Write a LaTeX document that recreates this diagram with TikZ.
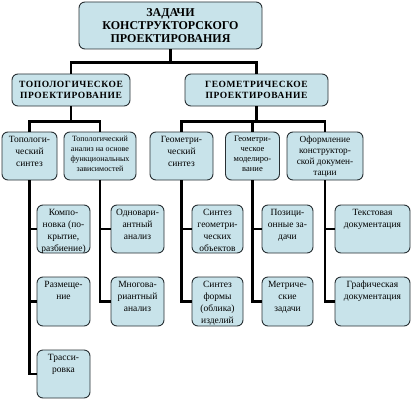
\documentclass[tikz,border=0pt]{standalone}
\usepackage{fontspec}
\setmainfont{Liberation Serif}
\newfontfamily\widefont[LetterSpace=6]{Liberation Serif}
\definecolor{boxfill}{RGB}{200,227,234}
\definecolor{boxline}{RGB}{40,48,52}
\newcommand{\bxt}[4]{\parbox[c][#2pt][t]{#1pt}{\centering\fontsize{#3}{12}\selectfont\vskip 2.5pt\strut #4\par}}
\begin{document}
\begin{tikzpicture}[x=1pt,y=-1pt,
  box/.style={draw=boxline,line width=0.9pt,fill=boxfill,rounded corners=6pt,inner sep=0pt,align=center},
  conn/.style={line width=2.8pt,black}]
\useasboundingbox (0,0) rectangle (411,401);
% top
\node[box,minimum width=183pt,minimum height=47pt,font=\fontsize{12}{13.3}\selectfont\bfseries] (top) at (170.5,25.5)
  {ЗАДАЧИ\\КОНСТРУКТОРСКОГО\\ПРОЕКТИРОВАНИЯ};
% level 2
\node[box,minimum width=118pt,minimum height=32pt,font=\widefont\fontsize{9.5}{10.5}\selectfont\bfseries] (topo) at (71,90)
  {ТОПОЛОГИЧЕСКОЕ\\ПРОЕКТИРОВАНИЕ};
\node[box,minimum width=143pt,minimum height=32pt,font=\widefont\fontsize{9.5}{10.5}\selectfont\bfseries] (geom) at (256.5,90)
  {ГЕОМЕТРИЧЕСКОЕ\\ПРОЕКТИРОВАНИЕ};
% level 3
\node[box] (ts) at (29.5,156) {\bxt{55}{48}{9.5}{Топологи-\\ческий\\синтез}};
\node[box] (ta) at (100,156) {\parbox[c][48pt][t]{72pt}{\centering\fontsize{8}{10}\selectfont\vskip 2.5pt\strut Топологический\\анализ на основе\\функциональных\\зависимостей\par}};
\node[box] (gs) at (181.5,156) {\bxt{63}{48}{9.5}{Геометри-\\ческий\\синтез}};
\node[box] (gm) at (252.5,156) {\parbox[c][48pt][t]{54pt}{\centering\fontsize{8.5}{10}\selectfont\vskip 2.5pt\strut Геометри-\\ческое\\моделиро-\\вание\par}};
\node[box] (od) at (325,156) {\parbox[c][48pt][t]{76pt}{\centering\fontsize{9.3}{11}\selectfont\vskip 2.5pt\strut Оформление\\конструктор-\\ской докумен-\\тации\par}};
% children
\node[box] (ts1) at (63.5,229) {\bxt{53}{48}{9.5}{Компо-\\новка (по-\\крытие,\\разбиение)}};
\node[box] (ts2) at (63.5,301.5) {\bxt{53}{49}{9.5}{Размеще-\\ние}};
\node[box] (ts3) at (63.5,374) {\bxt{53}{48}{9.5}{Трасси-\\ровка}};
\node[box] (ta1) at (137.5,229) {\bxt{53}{48}{9.5}{Одновари-\\антный\\анализ}};
\node[box] (ta2) at (137.5,301.5) {\bxt{53}{49}{9.5}{Многова-\\риантный\\анализ}};
\node[box] (gs1) at (217.5,229) {\bxt{51}{48}{9.5}{Синтез\\геометри-\\ческих\\объектов}};
\node[box] (gs2) at (217.5,301.5) {\bxt{51}{49}{9.5}{Синтез\\формы\\(облика)\\изделий}};
\node[box] (gm1) at (287.5,229) {\bxt{51}{48}{9.5}{Позици-\\онные за-\\дачи}};
\node[box] (gm2) at (287.5,301.5) {\bxt{51}{49}{9.5}{Метриче-\\ские\\задачи}};
\node[box] (od1) at (372.5,229) {\bxt{75}{48}{9.5}{Текстовая\\документация}};
\node[box] (od2) at (372.5,301.5) {\bxt{75}{49}{9.5}{Графическая\\документация}};
% connectors
\draw[conn] (top.south) -- ++(0,13) -| (topo.north);
\draw[conn] (top.south) ++(0,13) -| (geom.north);
\draw[conn] (topo.south) -- ++(0,15) -| (ts.north);
\draw[conn] (topo.south) ++(0,15) -| (ta.north);
\draw[conn] (geom.south) -- ++(0,15) -| (gs.north);
\draw[conn] (geom.south) ++(0,15) -| (gm.north);
\draw[conn] (geom.south) ++(0,15) -| (od.north);
\draw[conn] (ts.south) |- (ts3.west);
\draw[conn] (ts.south |- ts1.west) -- (ts1.west);
\draw[conn] (ts.south |- ts2.west) -- (ts2.west);
\draw[conn] (ta.south) |- (ta2.west);
\draw[conn] (ta.south |- ta1.west) -- (ta1.west);
\draw[conn] (gs.south) |- (gs2.west);
\draw[conn] (gs.south |- gs1.west) -- (gs1.west);
\draw[conn] (gm.south) |- (gm2.west);
\draw[conn] (gm.south |- gm1.west) -- (gm1.west);
\draw[conn] (od.south) |- (od2.west);
\draw[conn] (od.south |- od1.west) -- (od1.west);
\end{tikzpicture}
\end{document}
